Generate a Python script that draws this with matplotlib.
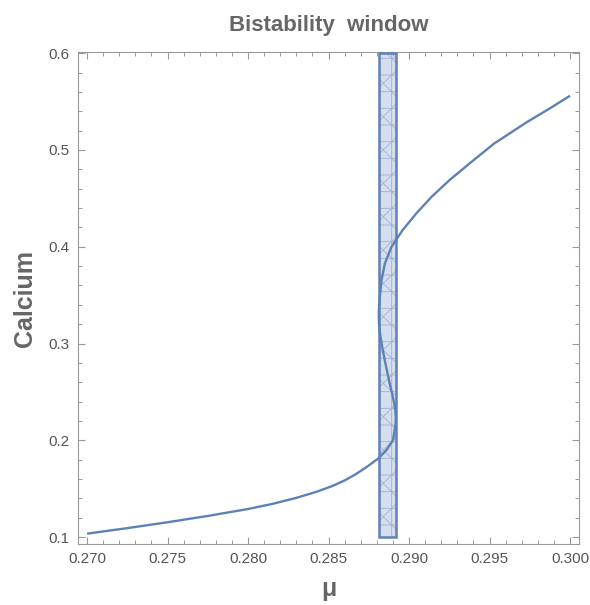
import matplotlib.pyplot as plt
import matplotlib.ticker as mticker
from matplotlib.patches import Rectangle

# S-shaped steady-state curve (ordered along the path)
mu_curve = [0.2700, 0.2725, 0.2750, 0.2775, 0.2800, 0.2815, 0.2830, 0.2842,
            0.2852, 0.2860, 0.2867, 0.2874, 0.2881, 0.2886, 0.2890, 0.28908,
            0.28916, 0.28918, 0.28915, 0.28908, 0.28895, 0.28878, 0.28855,
            0.28833, 0.28820, 0.28813, 0.28812, 0.28816, 0.28829, 0.28850,
            0.28891, 0.28960, 0.29045, 0.29140, 0.29251, 0.29390, 0.29529,
            0.29735, 0.29870, 0.3000]
ca_curve = [0.1035, 0.1092, 0.1153, 0.1218, 0.1290, 0.1342, 0.1405, 0.1465,
            0.1525, 0.1585, 0.1650, 0.1728, 0.1813, 0.1900, 0.2000, 0.2080,
            0.2160, 0.2230, 0.2300, 0.2380, 0.2480, 0.2600, 0.2780,
            0.2966, 0.3100, 0.3220, 0.3320, 0.3440, 0.3655, 0.3827,
            0.3999, 0.4171, 0.4344, 0.4516, 0.4688, 0.4880, 0.5067,
            0.5291, 0.5425, 0.5560]

# bistability window
window_mu = [0.28812, 0.28920]
window_ca = [0.1, 0.6]

BLUE = "#5E81B5"
GRAY = "#666666"

plt.rcParams["font.family"] = ["Liberation Sans", "DejaVu Sans"]
plt.rcParams["hatch.linewidth"] = 0.6

fig = plt.figure(figsize=(5.9, 6.05), dpi=100)
ax = fig.add_axes([0.1322, 0.1008, 0.8490, 0.8132])

# shaded window: fill + hatch, then the outline
ax.add_patch(Rectangle((window_mu[0], window_ca[0]), window_mu[1] - window_mu[0],
                       window_ca[1] - window_ca[0], facecolor="#D5DEEE",
                       edgecolor="#9FB3D5", hatch="x+", linewidth=0, zorder=1))
ax.add_patch(Rectangle((window_mu[0], window_ca[0]), window_mu[1] - window_mu[0],
                       window_ca[1] - window_ca[0], facecolor="none",
                       edgecolor=BLUE, linewidth=1.8, zorder=3))

ax.plot(mu_curve, ca_curve, color=BLUE, lw=1.7, zorder=2, solid_capstyle="butt")

ax.set_xlim(0.26944, 0.30055)
ax.set_ylim(0.0928, 0.6012)

ax.xaxis.set_major_locator(mticker.MultipleLocator(0.005))
ax.xaxis.set_minor_locator(mticker.MultipleLocator(0.001))
ax.yaxis.set_major_locator(mticker.MultipleLocator(0.1))
ax.yaxis.set_minor_locator(mticker.MultipleLocator(0.02))
ax.xaxis.set_major_formatter(mticker.FormatStrFormatter("%.3f"))
ax.yaxis.set_major_formatter(mticker.FormatStrFormatter("%.1f"))

for s in ax.spines.values():
    s.set_color("#999999")
    s.set_linewidth(0.8)
ax.tick_params(which="both", direction="in", top=True, right=True,
               color="#999999", labelcolor="#555555", labelsize=11)
ax.tick_params(which="major", length=5, width=0.8, pad=6)
ax.tick_params(which="minor", length=3, width=0.7)

ax.set_title("Bistability  window", fontsize=16, fontweight="bold", color=GRAY, pad=15)
ax.set_xlabel("μ", fontsize=18, fontweight="bold", color=GRAY, labelpad=8)
ax.set_ylabel("Calcium", fontsize=18, fontweight="bold", color=GRAY, labelpad=8)

fig.savefig("out.png", dpi=100)
